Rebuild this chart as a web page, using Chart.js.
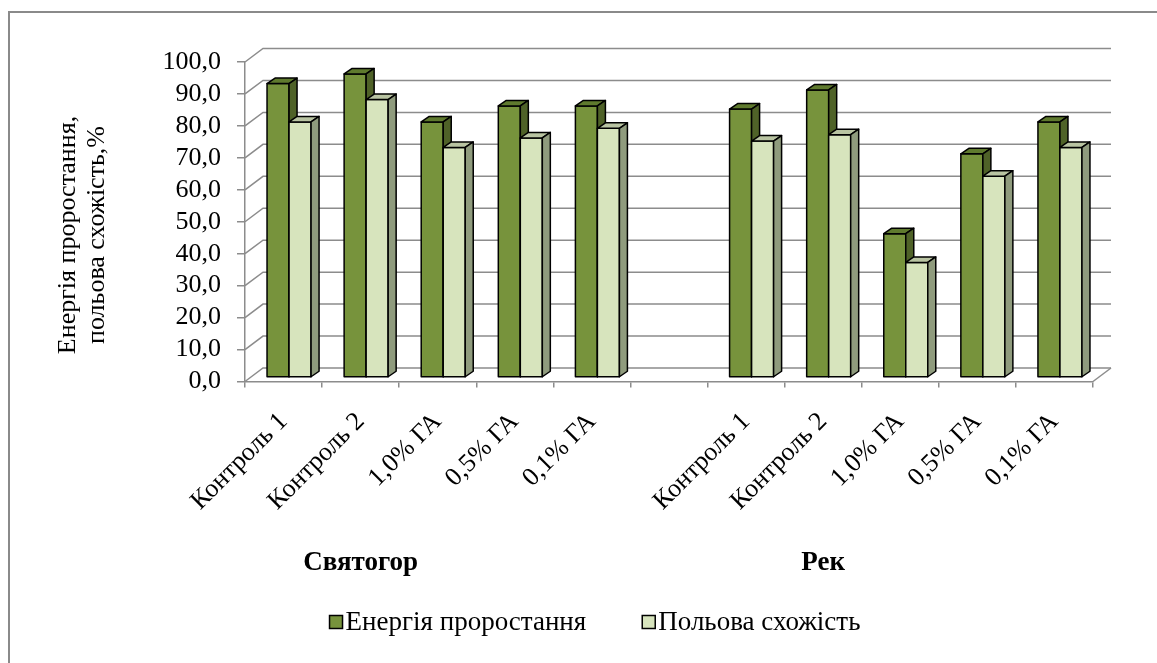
<!DOCTYPE html>
<html>
<head>
<meta charset="utf-8">
<script src="https://cdn.jsdelivr.net/npm/chart.js@4.4.0/dist/chart.umd.min.js"></script>
<style>
  html, body { margin: 0; padding: 0; background: #fff; }
  #wrap { width: 1157px; height: 663px; }
</style>
</head>
<body>
<div id="wrap"><canvas id="chart" width="1157" height="663"></canvas></div>
<script>
// data
var categories = ['Контроль 1', 'Контроль 2', '1,0% ГА', '0,5% ГА', '0,1% ГА', '',
                  'Контроль 1', 'Контроль 2', '1,0% ГА', '0,5% ГА', '0,1% ГА'];
var energy = [92, 95, 80, 85, 85, null, 84, 90, 45, 70, 80];
var field  = [80, 87, 72, 75, 78, null, 74, 76, 36, 63, 72];
var seriesNames = ['Енергія проростання', 'Польова схожість'];
var groups  = ['Святогор', 'Рек'];
var groupAt = [1, 7];
var yTitle  = ['Енергія проростання,', 'польова схожість,%'];

var serif = '"Liberation Serif", serif';
var gridCol = '#8c8c8c';

// fake 3d: bars sit a little behind the front plane, walls further back
var shift = { x: 5.5, y: -4 };
var depth = { x: 8, y: -5.5 };
var wall  = { x: 18, y: -13.5 };
var faces = [
  { front: '#77933C', top: '#5F7A2E', side: '#4F6228' },
  { front: '#D7E4BD', top: '#B9C4A2', side: '#8F9B7D' }
];

function poly(ctx, pts, fill) {
  ctx.beginPath();
  ctx.moveTo(pts[0][0], pts[0][1]);
  for (var i = 1; i < pts.length; i++) ctx.lineTo(pts[i][0], pts[i][1]);
  ctx.closePath();
  ctx.fillStyle = fill;
  ctx.fill();
  ctx.stroke();
}

var bars3d = {
  id: 'bars3d',
  beforeDatasetsDraw: function(chart) {
    var ctx = chart.ctx, xs = chart.scales.x, ys = chart.scales.y;
    var l = xs.left, r = xs.right;
    ctx.save();
    ctx.strokeStyle = gridCol;
    ctx.lineWidth = 1.5;
    ys.ticks.forEach(function(t) {
      var py = ys.getPixelForValue(t.value);
      ctx.beginPath();
      ctx.moveTo(l, py);
      ctx.lineTo(l + wall.x, py + wall.y);
      ctx.lineTo(r + wall.x, py + wall.y);
      ctx.stroke();
    });
    var p0 = ys.getPixelForValue(0);
    ctx.beginPath();
    ctx.moveTo(r, p0);
    ctx.lineTo(r + wall.x, p0 + wall.y);
    ctx.stroke();
    ctx.restore();
  },
  // library keeps the geometry, the plugin paints the boxes in the right order
  beforeDatasetDraw: function() { return false; },
  afterDatasetsDraw: function(chart) {
    var ctx = chart.ctx;
    var sets = chart.data.datasets;
    ctx.save();
    ctx.translate(shift.x, shift.y);
    ctx.strokeStyle = '#000';
    ctx.lineWidth = 1.5;
    ctx.lineJoin = 'round';
    chart.data.labels.forEach(function(lab, i) {
      sets.forEach(function(ds, d) {
        if (ds.data[i] == null) return;
        var f = faces[d];
        var p = chart.getDatasetMeta(d).data[i].getProps(['x', 'y', 'base', 'width'], true);
        var x0 = p.x - p.width / 2, x1 = p.x + p.width / 2;
        poly(ctx, [[x0, p.y], [x1, p.y], [x1, p.base], [x0, p.base]], f.front);
        poly(ctx, [[x0, p.y], [x0 + depth.x, p.y + depth.y], [x1 + depth.x, p.y + depth.y], [x1, p.y]], f.top);
        poly(ctx, [[x1, p.y], [x1 + depth.x, p.y + depth.y], [x1 + depth.x, p.base + depth.y], [x1, p.base]], f.side);
      });
    });
    ctx.restore();
  },
  afterDraw: function(chart) {
    var ctx = chart.ctx, xs = chart.scales.x;
    ctx.save();
    ctx.fillStyle = '#000';

    // axis title, two lines turned up
    ctx.font = '26px ' + serif;
    ctx.textAlign = 'center';
    ctx.textBaseline = 'middle';
    yTitle.forEach(function(t, i) {
      ctx.save();
      ctx.translate(68 + i * 29, 235);
      ctx.rotate(-Math.PI / 2);
      ctx.fillText(t, 0, 0);
      ctx.restore();
    });

    // group names under the rotated labels
    ctx.font = 'bold 27px ' + serif;
    groups.forEach(function(g, i) {
      ctx.fillText(g, xs.getPixelForValue(groupAt[i]), 563);
    });

    // legend
    ctx.font = '27px ' + serif;
    ctx.textAlign = 'left';
    var widths = chart.data.datasets.map(function(ds) { return ctx.measureText(ds.label).width; });
    var total = widths[0] + widths[1] + 2 * 16 + 56;
    var lx = 595 - total / 2, ly = 622;
    chart.data.datasets.forEach(function(ds, d) {
      ctx.fillStyle = faces[d].front;
      ctx.strokeStyle = '#000';
      ctx.lineWidth = 1.5;
      ctx.fillRect(lx, ly - 6.5, 13, 13);
      ctx.strokeRect(lx, ly - 6.5, 13, 13);
      ctx.fillStyle = '#000';
      ctx.fillText(ds.label, lx + 16, ly + 1);
      lx += 16 + widths[d] + 56;
    });

    // outer frame (only top and left edges are in the picture)
    ctx.strokeStyle = '#8a8a8a';
    ctx.lineWidth = 2;
    ctx.beginPath();
    ctx.moveTo(9, 663);
    ctx.lineTo(9, 12);
    ctx.lineTo(1157, 12);
    ctx.stroke();
    ctx.restore();
  }
};

new Chart(document.getElementById('chart'), {
  type: 'bar',
  data: {
    labels: categories,
    datasets: [
      { label: seriesNames[0], data: energy, backgroundColor: faces[0].front },
      { label: seriesNames[1], data: field,  backgroundColor: faces[1].front }
    ]
  },
  options: {
    responsive: false,
    animation: false,
    layout: { padding: { left: 0, top: 62, right: 64, bottom: 0 } },
    datasets: {
      bar: {
        borderColor: '#000',
        borderWidth: 1.5,
        categoryPercentage: 0.571,
        barPercentage: 1
      }
    },
    plugins: {
      legend: { display: false },
      tooltip: { enabled: false }
    },
    scales: {
      x: {
        offset: true,
        grid: { display: true, drawOnChartArea: false, offset: true, tickLength: 6, color: gridCol, lineWidth: 1.5 },
        border: { display: true, color: gridCol, width: 1.5 },
        ticks: {
          autoSkip: false, minRotation: 45, maxRotation: 45,
          font: { family: serif, size: 26 }, color: '#000', padding: 19
        },
        afterFit: function(s) { s.height = 281.5; }
      },
      y: {
        min: 0,
        max: 100,
        grid: { drawOnChartArea: false, drawTicks: true, tickLength: 8, color: gridCol, lineWidth: 1.5 },
        border: { display: true, color: gridCol, width: 1.5 },
        ticks: {
          stepSize: 10,
          autoSkip: false,
          padding: 16,
          font: { family: serif, size: 26 },
          color: '#000',
          callback: function(v) { return v.toFixed(1).replace('.', ','); }
        },
        afterFit: function(s) { s.width = 245; }
      }
    }
  },
  plugins: [bars3d]
});
</script>
</body>
</html>
